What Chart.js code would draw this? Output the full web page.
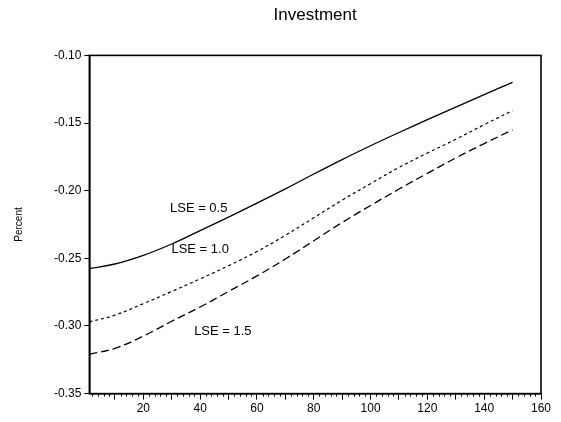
<!DOCTYPE html>
<html>
<head>
<meta charset="utf-8">
<script src="https://cdn.jsdelivr.net/npm/chart.js@4.4.1/dist/chart.umd.min.js"></script>
<style>
html,body{margin:0;padding:0;background:#fff;}
#wrap{width:561px;height:422px;}
</style>
</head>
<body>
<div id="wrap"><canvas id="c" width="561" height="422"></canvas></div>
<script>
const periods = [1, 10, 20, 30, 40, 50, 60, 70, 80, 90, 100, 110, 120, 130, 140, 150];
const lse05 = [-0.2576, -0.2542, -0.2478, -0.2394, -0.2295, -0.2195, -0.2092, -0.1987, -0.1877, -0.1770, -0.1668, -0.1570, -0.1475, -0.1382, -0.1290, -0.1199];
const lse10 = [-0.2970, -0.2920, -0.2835, -0.2745, -0.2652, -0.2555, -0.2450, -0.2330, -0.2200, -0.2070, -0.1948, -0.1828, -0.1722, -0.1620, -0.1512, -0.1408];
const lse15 = [-0.3210, -0.3165, -0.3075, -0.2965, -0.2860, -0.2745, -0.2630, -0.2505, -0.2370, -0.2235, -0.2110, -0.1988, -0.1872, -0.1758, -0.1652, -0.1550];
const seriesNames = ['LSE = 0.5', 'LSE = 1.0', 'LSE = 1.5'];
const labelAnchorX = [39.5, 40, 48];
const labelAnchorY = [-0.2130, -0.2432, -0.3040];
const yTicks = [-0.35, -0.30, -0.25, -0.20, -0.15, -0.10];
const xMajorTicks = [10, 20, 30, 40, 50, 60, 70, 80, 90, 100, 110, 120, 130, 140, 150, 160];

const FONT = "'Liberation Sans', Arial, sans-serif";

function pts(arr) { return periods.map((p, i) => ({x: p, y: arr[i]})); }

const frameAndMinor = {
  id: 'frameAndMinor',
  afterDraw(chart) {
    const {ctx, chartArea: a, scales} = chart;
    ctx.save();
    ctx.strokeStyle = '#000';
    ctx.lineWidth = 1.6;
    ctx.strokeRect(a.left, a.top, a.right - a.left, a.bottom - a.top);
    // minor ticks every 2 units
    ctx.lineWidth = 1;
    for (let v = 2; v <= 160; v += 2) {
      if (v % 10 === 0) continue;
      const x = Math.round(scales.x.getPixelForValue(v)) + 0.5;
      ctx.beginPath();
      ctx.moveTo(x, a.bottom);
      ctx.lineTo(x, a.bottom + 3);
      ctx.stroke();
    }
    // series labels
    ctx.fillStyle = '#000';
    ctx.font = '13px ' + FONT;
    ctx.textAlign = 'center';
    ctx.textBaseline = 'middle';
    seriesNames.forEach((n, i) => {
      ctx.fillText(n, scales.x.getPixelForValue(labelAnchorX[i]), scales.y.getPixelForValue(labelAnchorY[i]));
    });
    ctx.restore();
  }
};

new Chart(document.getElementById('c'), {
  type: 'line',
  data: {
    datasets: [
      {label: seriesNames[0], data: pts(lse05), borderColor: '#000', borderWidth: 1.3, pointRadius: 0, tension: 0.4, fill: false},
      {label: seriesNames[1], data: pts(lse10), borderColor: '#000', borderWidth: 1.2, borderDash: [3, 3], pointRadius: 0, tension: 0.4, fill: false},
      {label: seriesNames[2], data: pts(lse15), borderColor: '#000', borderWidth: 1.3, borderDash: [8, 4], pointRadius: 0, tension: 0.4, fill: false}
    ]
  },
  options: {
    responsive: false,
    animation: false,
    devicePixelRatio: 1,
    layout: {padding: {left: 6, right: 20, top: 5, bottom: 4}},
    plugins: {
      legend: {display: false},
      tooltip: {enabled: false},
      title: {
        display: true,
        text: 'Investment',
        fullSize: false,
        color: '#000',
        font: {family: FONT, size: 17, weight: 'normal'},
        padding: {top: 0, bottom: 30}
      }
    },
    scales: {
      x: {
        type: 'linear',
        min: 1,
        max: 160,
        afterBuildTicks(scale) { scale.ticks = xMajorTicks.map(v => ({value: v})); },
        ticks: {
          autoSkip: false,
          maxRotation: 0,
          color: '#000',
          font: {family: FONT, size: 12},
          padding: 2,
          callback: v => (v % 20 === 0 ? String(v) : '')
        },
        grid: {drawOnChartArea: false, tickLength: 6, tickColor: '#000', tickWidth: 1},
        border: {display: true, color: '#000', width: 1.6}
      },
      y: {
        min: -0.35,
        max: -0.10,
        afterBuildTicks(scale) { scale.ticks = yTicks.map(v => ({value: v})); },
        ticks: {
          color: '#000',
          font: {family: FONT, size: 12},
          padding: 3,
          callback: v => v.toFixed(2)
        },
        grid: {drawOnChartArea: false, tickLength: 5, tickColor: '#000', tickWidth: 1},
        border: {display: true, color: '#000', width: 1.6},
        title: {
          display: true,
          text: 'Percent',
          color: '#000',
          font: {family: FONT, size: 10},
          padding: {top: 7, bottom: 26}
        }
      }
    }
  },
  plugins: [frameAndMinor]
});
</script>
</body>
</html>
